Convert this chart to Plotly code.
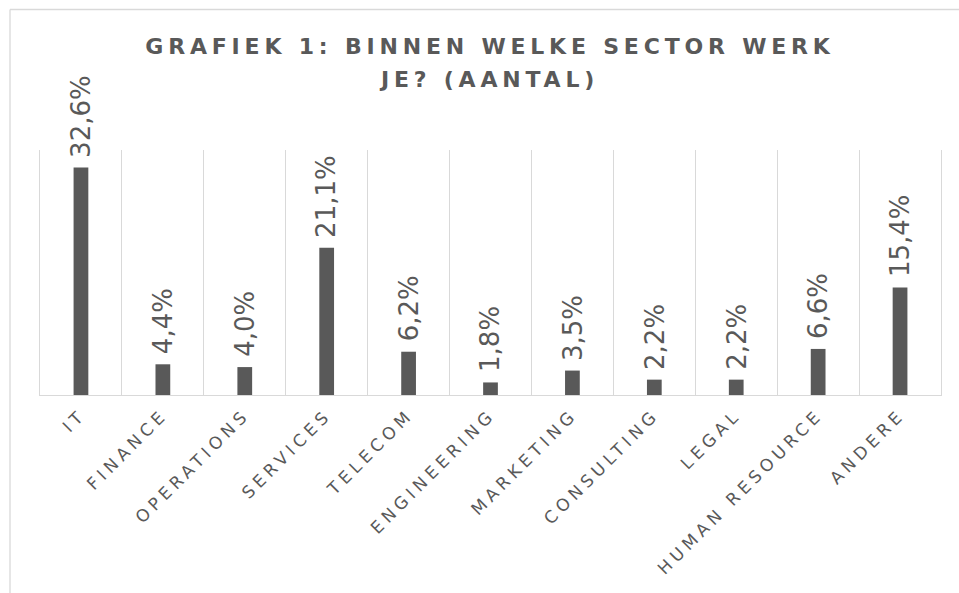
import plotly.graph_objects as go

categories = ["IT", "FINANCE", "OPERATIONS", "SERVICES", "TELECOM", "ENGINEERING",
              "MARKETING", "CONSULTING", "LEGAL", "HUMAN RESOURCE", "ANDERE"]
values = [32.6, 4.4, 4.0, 21.1, 6.2, 1.8, 3.5, 2.2, 2.2, 6.6, 15.4]
title_lines = ["GRAFIEK 1: BINNEN WELKE SECTOR WERK", "JE? (AANTAL)"]

W, H = 959, 593
L, R, T, B = 40, 18, 150, 198
FONT = "Verdana, DejaVu Sans, sans-serif"
GREY = "#595959"
LINE = "#d9d9d9"

fig = go.Figure()
fig.add_trace(go.Bar(
    x=categories, y=values, width=0.18,
    marker=dict(color=GREY, line=dict(width=0)),
    hoverinfo="x+y",
))

annotations = []
for c, v in zip(categories, values):
    annotations.append(dict(
        x=c, y=v, xref="x", yref="y",
        text=f"{v:.1f}%".replace(".", ","),
        textangle=-90, showarrow=False,
        xanchor="center", yanchor="bottom", yshift=8,
        font=dict(family=FONT, size=26, color=GREY),
    ))

pw = W - L - R
ph = H - T - B
def px(xp):
    return (xp - L) / pw
def py(yp):
    return (H - B - yp) / ph

shapes = [
    dict(type="line", xref="paper", yref="paper", x0=px(10), x1=px(10), y0=py(9.5), y1=py(620),
         line=dict(color=LINE, width=1.3)),
    dict(type="line", xref="paper", yref="paper", x0=px(10), x1=px(990), y0=py(9.5), y1=py(9.5),
         line=dict(color=LINE, width=1.3)),
]

fig.update_layout(
    width=W, height=H,
    margin=dict(l=L, r=R, t=T, b=B, pad=0),
    paper_bgcolor="white", plot_bgcolor="white",
    showlegend=False,
    title=dict(
        text="<br>".join(title_lines),
        x=px(490), xref="paper", xanchor="center",
        y=1 - 54 / H, yref="container", yanchor="top",
        font=dict(family=FONT, size=22, color=GREY, weight="bold"),
    ),
    xaxis=dict(
        type="category", tickson="boundaries",
        showgrid=True, gridcolor=LINE, gridwidth=1,
        showline=True, linecolor=LINE, linewidth=1.3,
        ticks="", tickangle=-45, ticklabelstandoff=2,
        tickfont=dict(family=FONT, size=17, color=GREY),
        zeroline=False,
    ),
    yaxis=dict(range=[0, 35.1], showgrid=False, zeroline=False,
               showticklabels=False, ticks="",
               showline=True, mirror=True, linecolor=LINE, linewidth=1),
    annotations=annotations,
    shapes=shapes,
)

js = """
document.body.style.margin = '0';
var gd = document.getElementById('{plot_id}');
function sp(){
  gd.querySelectorAll('.xtick text').forEach(function(t){ t.style.letterSpacing = '4.5px'; });
  gd.querySelectorAll('.gtitle').forEach(function(t){ t.style.letterSpacing = '4.8px'; });
  gd.querySelectorAll('.gtitle tspan.line').forEach(function(t, i){ if (i > 0) t.setAttribute('dy', '1.49em'); });
}
sp();
gd.on('plotly_afterplot', sp);
"""

fig.write_html("out.html", post_script=js, config={"displayModeBar": False})
